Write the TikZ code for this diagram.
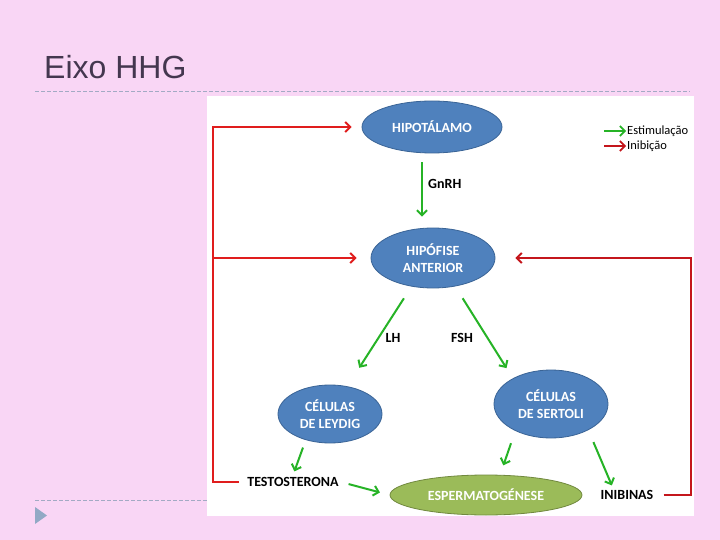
\documentclass[tikz,border=0pt]{standalone}
\usepackage{fontspec}
\setmainfont{Carlito}
\newfontfamily\titlefont{Liberation Sans}
\usetikzlibrary{shapes.geometric, arrows.meta}

\definecolor{slidebg}{HTML}{F9D6F5}
\definecolor{titlegrey}{HTML}{44374F}
\definecolor{rulegrey}{HTML}{A3AAC4}
\definecolor{bulletblue}{HTML}{92A9C5}
\definecolor{glandblue}{HTML}{4F81BD}
\definecolor{glandline}{HTML}{3A6496}
\definecolor{tissuegreen}{HTML}{9BBB59}
\definecolor{tissueline}{HTML}{71893F}
\definecolor{stimgreen}{HTML}{26B326}
\definecolor{inhibred}{HTML}{E01D1D}
\definecolor{inhibdark}{HTML}{C4161C}

\tikzset{
  gland/.style = {ellipse, draw = glandline, fill = glandblue, line width = .8pt,
    text = white, align = center, inner sep = 0pt,
    font = \fontsize{14}{17}\selectfont\bfseries},
  hormone/.style = {inner sep = 2pt, font = \fontsize{14}{17}\selectfont\bfseries},
  stim/.style = {draw = stimgreen, line width = 2pt,
    -{Straight Barb[length = 5pt, width = 10pt]}},
  inhib/.style = {draw = inhibred, line width = 2pt,
    -{Straight Barb[length = 5pt, width = 10pt]}}
}

\begin{document}
\begin{tikzpicture}[x = 1pt, y = -1pt]
  % slide
  \fill [slidebg] (0,0) rectangle (720,540);
  \node [anchor = base west, inner sep = 0pt, text = titlegrey,
    font = \titlefont\fontsize{32}{32}\selectfont] (title) at (44,79) {Eixo HHG};
  \draw [rulegrey, line width = .8pt, dash pattern = on 4pt off 2pt]
    (35,91) -- (690,91) (35,500) -- (690,500);
  \fill [bulletblue] (35,507) -- (47,515.5) -- (35,524) -- cycle;
  \fill [white] (207,96) rectangle (694,516);

  % glands and cells
  \node [gland, minimum width = 140pt, minimum height = 52pt] (hipot) at (432,127) {HIPOTÁLAMO};
  \node [gland, minimum width = 124pt, minimum height = 60pt] (hipof) at (433,258) {HIPÓFISE\\ANTERIOR};
  \node [gland, minimum width = 104pt, minimum height = 58pt] (leydig) at (330,414) {CÉLULAS\\DE LEYDIG};
  \node [gland, minimum width = 114pt, minimum height = 68pt] (sertoli) at (551,404) {CÉLULAS\\DE SERTOLI};
  \node [gland, draw = tissueline, fill = tissuegreen, minimum width = 192pt,
    minimum height = 40pt] (esperm) at (486,495) {ESPERMATOGÉNESE};

  % hormones
  \node [hormone, anchor = west] (gnrh) at (426,184) {GnRH};
  \node [hormone] (lh) at (393,338) {LH};
  \node [hormone] (fsh) at (462,338) {FSH};
  \node [hormone] (testo) at (293,482) {TESTOSTERONA};
  \node [hormone] (inib) at (627,495) {INIBINAS};

  % stimulation
  \draw [stim, shorten <= 9pt, shorten >= 11pt]
    ([xshift = -10pt]hipot.south) -- ([xshift = -10pt]hipot.south |- hipof.north);
  \draw [stim, shorten <= 14pt, shorten >= 22pt] (hipof.233) -- (leydig.58);
  \draw [stim, shorten <= 14pt, shorten >= 12pt] (hipof.308) -- (sertoli.146);
  \draw [stim, shorten <= 8pt, shorten >= 4pt] (leydig.227) -- (testo.north);
  \draw [stim, shorten <= 8pt, shorten >= 10pt] (testo.east) -- (esperm.west);
  \draw [stim, shorten <= 13pt, shorten >= 10pt] (sertoli.217) -- (esperm.55);
  \draw [stim, shorten <= 13pt, shorten >= 3pt]
    (sertoli.325) -- ([xshift = -14pt]inib.north);

  % inhibition
  \coordinate (lbus) at (213,0);
  \coordinate (rbus) at (691,0);
  \draw [inhib, shorten <= 6pt, shorten >= 10pt]
    (testo.west) -- (testo.west -| lbus) |- (hipot.west);
  \draw [inhib, shorten >= 14pt] (testo.west -| lbus) |- (hipof.west);
  \draw [inhib, draw = inhibdark, shorten <= 8pt, shorten >= 20pt]
    (inib.east) -- (inib.east -| rbus) |- (hipof.east);

  % legend
  \node [anchor = west, inner sep = 1pt, font = \fontsize{12.5}{13}\selectfont]
    (lstim) at (626,131) {Estimulação};
  \node [anchor = west, inner sep = 1pt, font = \fontsize{12.5}{13}\selectfont]
    (linib) at (626,146) {Inibição};
  \draw [stim, line width = 1.6pt] ([xshift = -22pt]lstim.west) -- (lstim.west);
  \draw [inhib, draw = inhibdark, line width = 1.6pt]
    ([xshift = -22pt]linib.west) -- (linib.west);
\end{tikzpicture}
\end{document}
